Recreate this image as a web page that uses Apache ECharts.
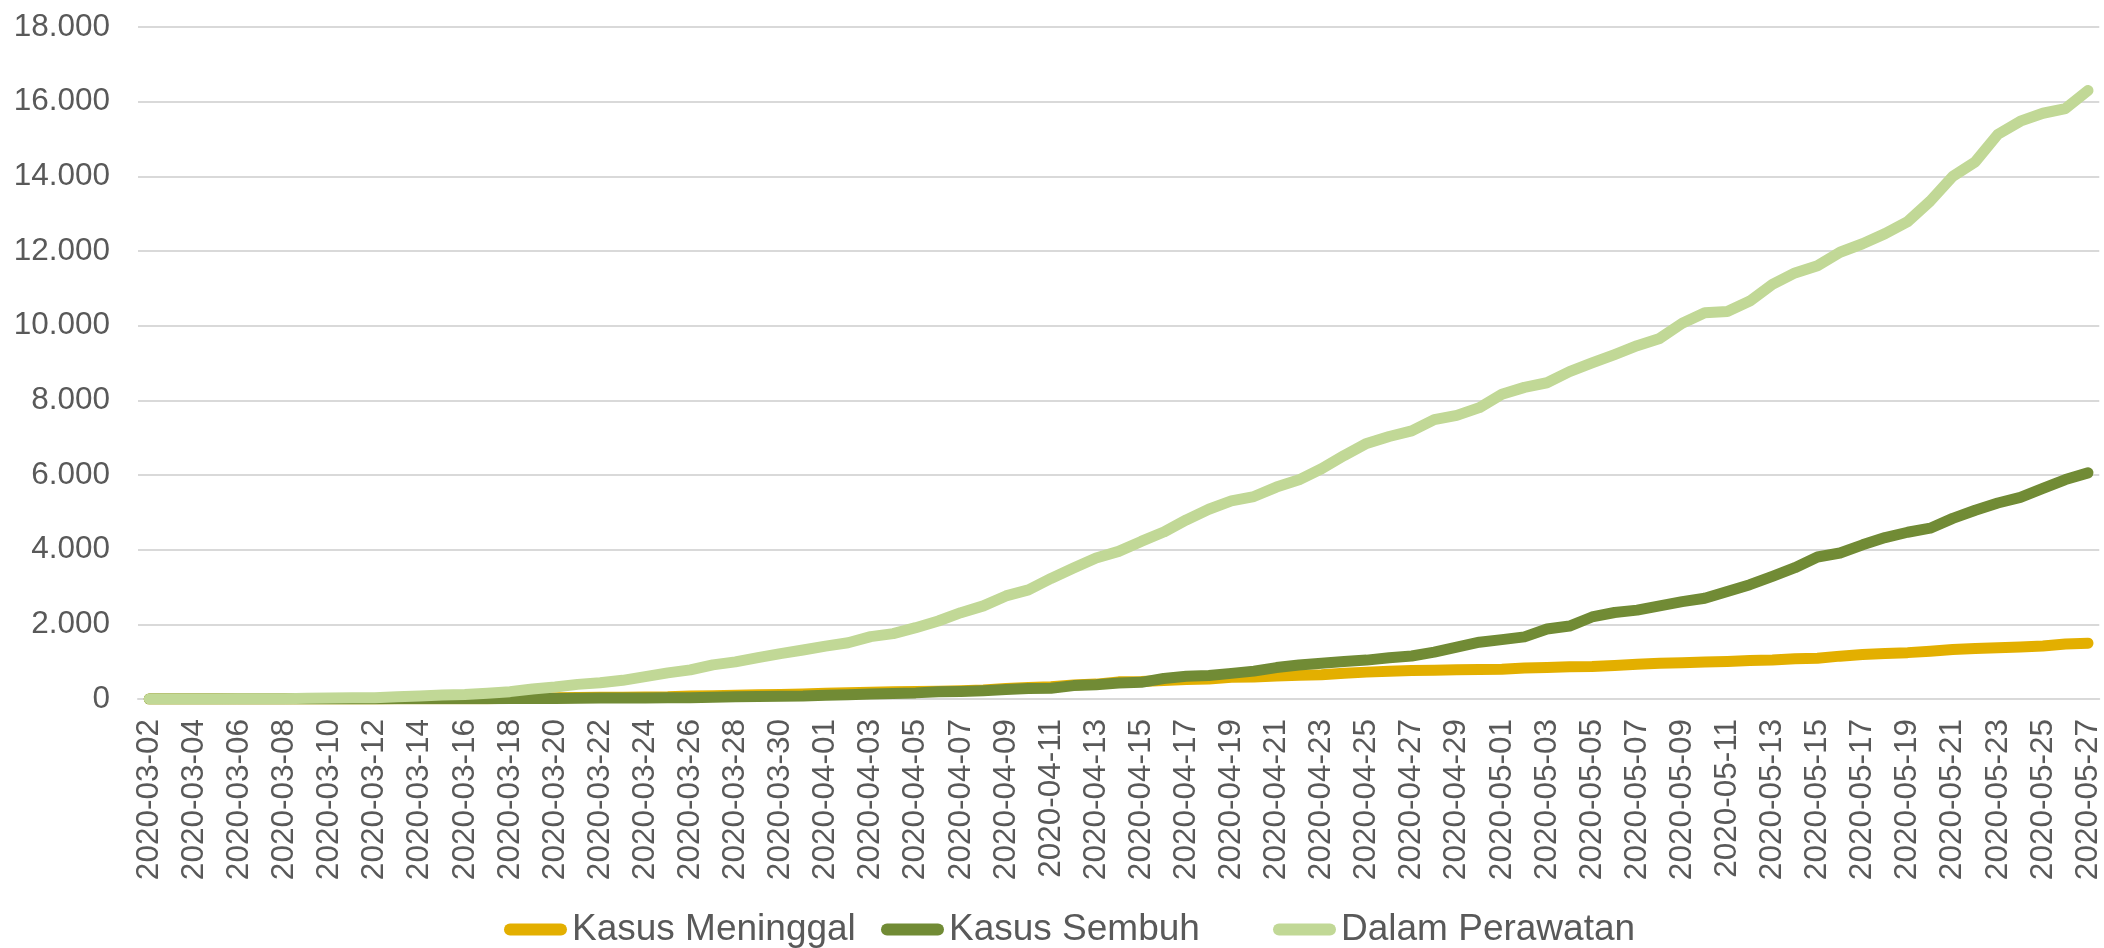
<!DOCTYPE html>
<html>
<head>
<meta charset="utf-8">
<title>Kasus COVID-19</title>
<script src="https://cdn.jsdelivr.net/npm/echarts@6/dist/echarts.min.js"></script>
<style>
  html, body { margin: 0; padding: 0; background: #fff; }
  #chart { width: 2104px; height: 948px; }
</style>
</head>
<body>
<div id="chart"></div>
<script>
// tanggal (sumbu x)
var dates = [
  '2020-03-02','2020-03-03','2020-03-04','2020-03-05','2020-03-06','2020-03-07','2020-03-08','2020-03-09','2020-03-10','2020-03-11',
  '2020-03-12','2020-03-13','2020-03-14','2020-03-15','2020-03-16','2020-03-17','2020-03-18','2020-03-19','2020-03-20','2020-03-21',
  '2020-03-22','2020-03-23','2020-03-24','2020-03-25','2020-03-26','2020-03-27','2020-03-28','2020-03-29','2020-03-30','2020-03-31',
  '2020-04-01','2020-04-02','2020-04-03','2020-04-04','2020-04-05','2020-04-06','2020-04-07','2020-04-08','2020-04-09','2020-04-10',
  '2020-04-11','2020-04-12','2020-04-13','2020-04-14','2020-04-15','2020-04-16','2020-04-17','2020-04-18','2020-04-19','2020-04-20',
  '2020-04-21','2020-04-22','2020-04-23','2020-04-24','2020-04-25','2020-04-26','2020-04-27','2020-04-28','2020-04-29','2020-04-30',
  '2020-05-01','2020-05-02','2020-05-03','2020-05-04','2020-05-05','2020-05-06','2020-05-07','2020-05-08','2020-05-09','2020-05-10',
  '2020-05-11','2020-05-12','2020-05-13','2020-05-14','2020-05-15','2020-05-16','2020-05-17','2020-05-18','2020-05-19','2020-05-20',
  '2020-05-21','2020-05-22','2020-05-23','2020-05-24','2020-05-25','2020-05-26','2020-05-27'
];

var meninggal = [
  0, 0, 0, 0, 0, 0, 0, 0, 0, 1,
  1, 4, 5, 5, 5, 7, 19, 25, 32, 38,
  48, 49, 55, 58, 78, 87, 102, 114, 122, 136,
  157, 170, 181, 191, 198, 209, 221, 240, 280, 306,
  327, 373, 399, 459, 469, 496, 520, 535, 582, 590,
  616, 635, 647, 689, 720, 743, 765, 773, 784, 792,
  800, 831, 845, 864, 872, 895, 930, 959, 973, 991,
  1007, 1028, 1043, 1076, 1089, 1148, 1191, 1221, 1242, 1278,
  1326, 1351, 1372, 1391, 1418, 1473, 1496
];

var sembuh = [
  0, 0, 0, 0, 0, 0, 0, 0, 0, 0,
  2, 5, 8, 8, 8, 9, 11, 15, 16, 20,
  29, 30, 30, 31, 35, 46, 59, 64, 75, 81,
  103, 112, 134, 150, 164, 192, 204, 222, 252, 282,
  286, 359, 380, 426, 446, 548, 607, 631, 686, 747,
  842, 913, 960, 1002, 1042, 1107, 1151, 1254, 1391, 1522,
  1591, 1665, 1876, 1954, 2197, 2317, 2381, 2494, 2607, 2698,
  2881, 3063, 3287, 3518, 3803, 3911, 4129, 4324, 4467, 4575,
  4838, 5057, 5249, 5402, 5642, 5877, 6057
];

var perawatan = [
  2, 2, 2, 2, 4, 4, 6, 19, 27, 33,
  31, 60, 83, 104, 121, 156, 197, 269, 321, 392,
  437, 500, 601, 701, 780, 913, 994, 1107, 1217, 1311,
  1417, 1508, 1671, 1751, 1911, 2090, 2313, 2494, 2761, 2924,
  3229, 3509, 3778, 3954, 4221, 4472, 4796, 5082, 5307, 5423,
  5677, 5870, 6168, 6520, 6845, 7032, 7180, 7484, 7596, 7804,
  8160, 8347, 8471, 8769, 9002, 9226, 9465, 9659, 10065, 10343,
  10377, 10658, 11108, 11412, 11604, 11966, 12194, 12465, 12787, 13336,
  13998, 14388, 15124, 15478, 15690, 15815, 16298
];

var seriesNames = ['Kasus Meninggal', 'Kasus Sembuh', 'Dalam Perawatan'];
var seriesColors = ['#E3AF00', '#718B35', '#C1D896'];
var seriesData = [meninggal, sembuh, perawatan];

var yTicks = { min: 0, max: 18000, step: 2000 };

function formatRibuan(v) {
    return String(v).replace(/\B(?=(\d{3})+(?!\d))/g, '.');
}

// ikon legenda berbentuk pil
var pill = 'path://M6,0H57A6,6,0,0,1,57,12H6A6,6,0,0,1,6,0Z';
// Excel memberi tiap entri legenda lebar yang sama
var legendLeft = [499, 876, 1268];

var myChart = echarts.init(document.getElementById('chart'), null, { renderer: 'canvas' });

var option = {
    animation: false,
    color: seriesColors,
    textStyle: { fontFamily: 'Liberation Sans, Arial, sans-serif' },
    grid: {
        left: 138,
        right: 4,
        top: 27,
        bottom: 249,
        containLabel: false
    },
    legend: seriesNames.map(function (name, i) {
        return {
            data: [name],
            left: legendLeft[i],
            top: 906,
            icon: pill,
            itemWidth: 63,
            itemHeight: 12,
            textStyle: { color: '#595959', fontSize: 37 }
        };
    }),
    xAxis: {
        type: 'category',
        data: dates,
        boundaryGap: true,
        axisLine: { lineStyle: { color: '#d9d9d9', width: 2 } },
        axisTick: { show: false },
        axisLabel: {
            interval: 1,
            rotate: 90,
            margin: 20,
            color: '#595959',
            fontSize: 31.5
        }
    },
    yAxis: {
        type: 'value',
        min: yTicks.min,
        max: yTicks.max,
        interval: yTicks.step,
        axisLine: { show: false },
        axisTick: { show: false },
        splitLine: { lineStyle: { color: '#d9d9d9', width: 2 } },
        axisLabel: {
            margin: 28,
            color: '#595959',
            fontSize: 31.5,
            formatter: formatRibuan
        }
    },
    series: seriesNames.map(function (name, i) {
        return {
            name: name,
            type: 'line',
            data: seriesData[i],
            symbol: 'none',
            smooth: false,
            lineStyle: { width: 11, color: seriesColors[i], cap: 'round', join: 'round' },
            itemStyle: { color: seriesColors[i] }
        };
    })
};

myChart.setOption(option);
</script>
</body>
</html>
